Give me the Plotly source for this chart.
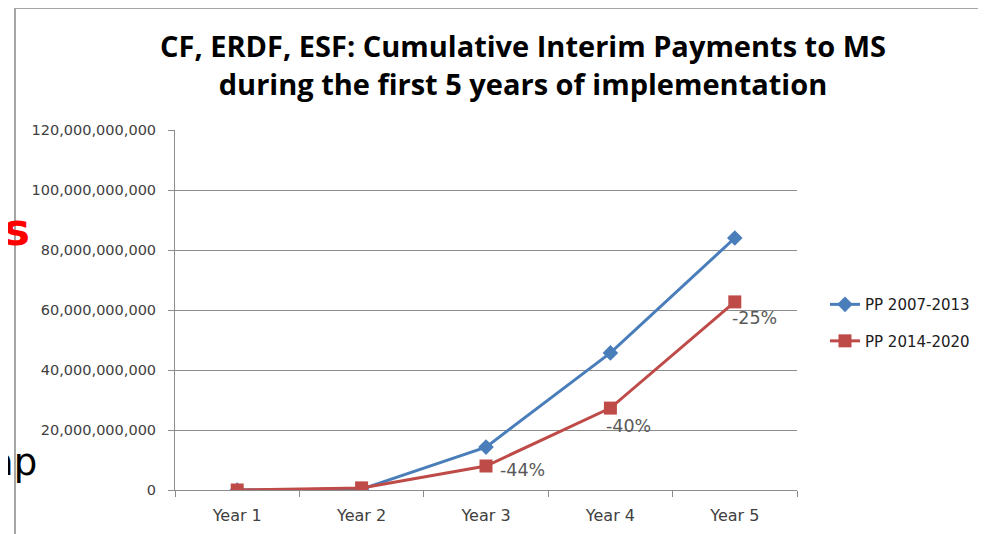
import plotly.graph_objects as go

years = ["Year 1", "Year 2", "Year 3", "Year 4", "Year 5"]
pp_2007_2013 = [0, 300_000_000, 14_300_000_000, 45_700_000_000, 84_000_000_000]
pp_2014_2020 = [0, 700_000_000, 8_000_000_000, 27_300_000_000, 62_700_000_000]
gap_labels = ["", "", "-44%", "-40%", "-25%"]
y_ticks = [0, 20e9, 40e9, 60e9, 80e9, 100e9, 120e9]
y_tick_text = ["0", "20,000,000,000", "40,000,000,000", "60,000,000,000",
               "80,000,000,000", "100,000,000,000", "120,000,000,000"]

# label offsets (pixels) from the PP 2014-2020 points
label_xshift = [0, 0, 36, 18, 20]
label_yshift = [0, 0, -4, -18, -16]

TICK_FONT = dict(family="DejaVu Sans", size=14.5, color="#404040")

# page is offset by the 8px body margin, so the figure is sized to fit
W, H = 978, 526
L, T, PW, PH = 167, 122, 622, 360

fig = go.Figure()
fig.add_trace(go.Scatter(
    x=years, y=pp_2007_2013, name="PP 2007-2013", mode="lines+markers",
    legendgroup="a",
    line=dict(color="#4a7ebb", width=3),
    marker=dict(symbol="diamond", size=12, color="#4a7ebb"),
))
fig.add_trace(go.Scatter(
    x=years, y=pp_2014_2020, name="PP 2014-2020", mode="lines+markers",
    legendgroup="b",
    line=dict(color="#be4b48", width=3),
    marker=dict(symbol="square", size=13, color="#be4b48"),
))

annotations = [
    dict(text=lab, x=xv, y=yv, xref="x", yref="y", xshift=dx, yshift=dy,
         showarrow=False, xanchor="center", yanchor="middle",
         font=dict(family="DejaVu Sans", size=17.5, color="#595959"))
    for lab, xv, yv, dx, dy in zip(gap_labels, years, pp_2014_2020, label_xshift, label_yshift)
    if lab
]
annotations += [
    dict(text="<b>es</b>", xref="paper", yref="paper", x=(32 - 175) / PW, y=(490 - 229) / PH,
         xanchor="right", yanchor="middle", showarrow=False,
         font=dict(family="DejaVu Sans", size=44, color="#ff0000")),
    dict(text="ap", xref="paper", yref="paper", x=(39 - 175) / PW, y=(490 - 462) / PH,
         xanchor="right", yanchor="middle", showarrow=False,
         font=dict(family="DejaVu Sans", size=37, color="#000000")),
]

fig.update_layout(
    width=W, height=H,
    margin=dict(l=L, r=W - L - PW, t=T, b=H - T - PH, autoexpand=False),
    paper_bgcolor="white", plot_bgcolor="white",
    title=dict(
        text="<b>CF, ERDF, ESF: Cumulative Interim Payments to MS<br>during the first 5 years of implementation</b>",
        font=dict(family="Open Sans", size=29, color="#000000"),
        x=515 / W, xanchor="center", yref="container", y=1 - 49 / H, yanchor="middle",
    ),
    showlegend=True,
    legend=dict(
        x=1.045, y=0.465, xanchor="left", yanchor="middle",
        font=dict(family="DejaVu Sans", size=15, color="#202020"),
        bgcolor="rgba(0,0,0,0)", tracegroupgap=14,
    ),
    xaxis=dict(
        type="category", range=[-0.5, 4.5], automargin=False,
        showgrid=False, showline=True, linecolor="#8c8c8c", linewidth=1,
        ticks="outside", ticklen=6, tickcolor="#8c8c8c", tickson="boundaries",
        tickfont=dict(family="DejaVu Sans", size=16, color="#404040"),
        ticklabelstandoff=11,
    ),
    yaxis=dict(
        range=[0, 120e9], tickvals=y_ticks, ticktext=y_tick_text, automargin=False,
        showgrid=True, gridcolor="#8c8c8c", gridwidth=1,
        showline=True, linecolor="#8c8c8c", linewidth=1,
        ticks="outside", ticklen=6, tickcolor="#8c8c8c",
        tickfont=TICK_FONT, zeroline=False, ticklabelstandoff=9,
    ),
    shapes=[
        dict(type="line", xref="paper", yref="paper", x0=(15 - 175) / PW, x1=1.5,
             y0=(490 - 8) / PH, y1=(490 - 8) / PH, line=dict(color="#a6a6a6", width=2)),
        dict(type="line", xref="paper", yref="paper", x0=(15 - 175) / PW, x1=(15 - 175) / PW,
             y0=(490 - 8) / PH, y1=-0.3, line=dict(color="#a6a6a6", width=2)),
    ],
    annotations=annotations,
)

fig.write_html("out.html")
